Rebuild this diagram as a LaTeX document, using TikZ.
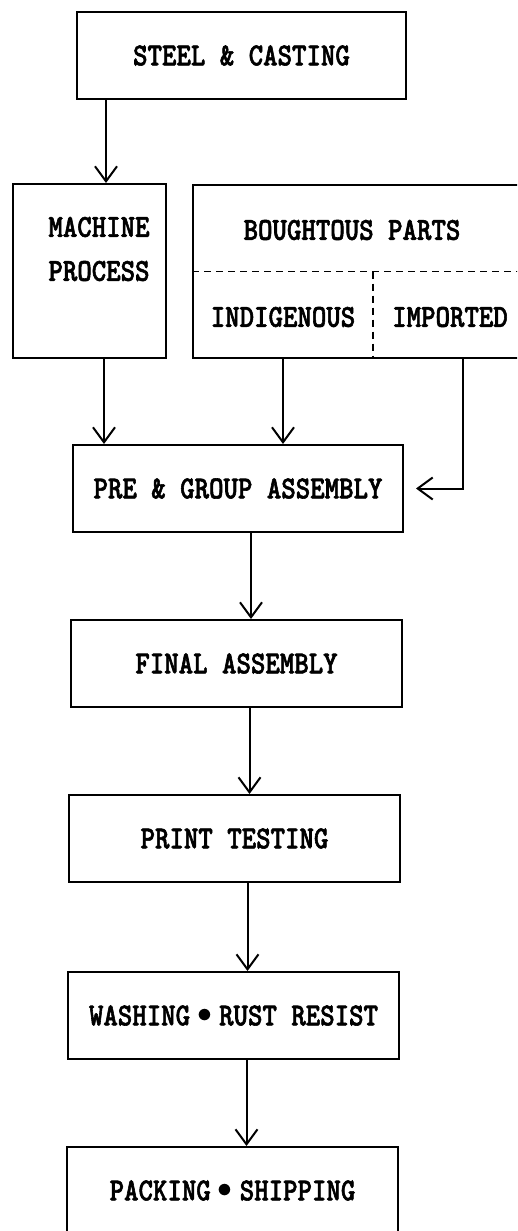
\documentclass[tikz,border=0pt]{standalone}
\usepackage{fontspec}
\newfontfamily\flowfont[FakeStretch=0.86,FakeBold=1.8]{lmmonolt10-bold.otf}
\usetikzlibrary{arrows.meta,calc}
\newcommand{\midbullet}{\hspace{0.22em}\raisebox{0.08em}{\scalebox{1.2}{$\bullet$}}\hspace{0.22em}}

\begin{document}
\begin{tikzpicture}[x=1pt,y=-1pt,
		lbl/.style={inner sep=0pt,font=\flowfont\fontsize{32}{44}\selectfont},
		box/.style={lbl,draw,line width=2pt,minimum width=331pt,minimum height=87pt},
		sep/.style={line width=1.5pt,dash pattern=on 7pt off 5pt},
		flow/.style={line width=2pt,-{Straight Barb[length=15pt,width=22pt,line width=2pt]}}]
					%\draw[help lines] (0,0) grid[step=50] (517,1231);
					\useasboundingbox (0,0) rectangle (517,1231);
					\clip (0,0) rectangle (517,1231);
					
					%STEEL
					\node[box,minimum width=329pt] (S) at (241.5,55.5) {STEEL \& CASTING};
					
					%MACHINE
					\node[box,minimum width=153pt,minimum height=174pt] (M) at (89.5,271) {};
					\node[lbl,align=center] (Mt) at (99,249) {MACHINE\\PROCESS};
					
					%BOUGHTOUS PARTS
					\node[box,minimum width=334pt,minimum height=173pt] (B) at (360,271.5) {};
					\draw[sep] (B.west) -- (B.east);
					\coordinate (D) at (373,271.5);
					\draw[sep] (D) -- (D |- B.south);
					\node[lbl] (Bt) at (352,230) {BOUGHTOUS PARTS};
					\node[lbl] (I) at (283,317) {INDIGENOUS};
					\node[lbl] (E) at (450,317) {IMPORTED};
					
					%LINE
					\node[box,minimum width=330pt] (P) at (238,488.5) {PRE \& GROUP ASSEMBLY};
					\node[box] (F) at (236.5,663.5) {FINAL ASSEMBLY};
					\node[box] (T) at (234.5,838.5) {PRINT TESTING};
					\node[box] (W) at (233.5,1015.5) {WASHING\midbullet RUST RESIST};
					\node[box] (K) at (232.5,1190.5) {PACKING\midbullet SHIPPING};
					
					%arrows
					\draw[flow] ([xshift=30pt]S.south west) coordinate (t) -- (t |- M.north);
					\draw[flow] ([xshift=14.5pt]M.south) coordinate (t) -- (t |- P.north);
					\draw[flow] (I |- B.south) -- (I |- P.north);
					\coordinate (e) at ([xshift=13pt]E.center);
					\draw[flow] (e |- B.south) |- ([xshift=12pt]P.east);
					\foreach \a/\b in {P/F,F/T,T/W,W/K}
						\draw[flow] ([xshift=13pt]\a.south) coordinate (t) -- (t |- \b.north);
				  \end{tikzpicture}
\end{document}
